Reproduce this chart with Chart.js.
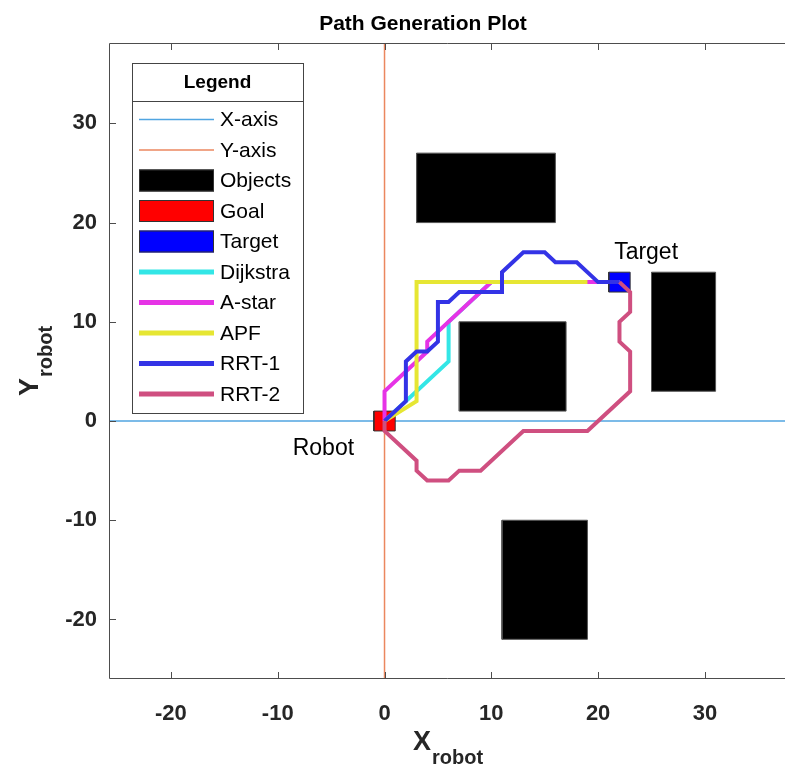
<!DOCTYPE html>
<html>
<head>
<title>Path Generation Plot</title>
<style>
  html, body { margin: 0; padding: 0; background: #fff; }
  #wrap { width: 785px; height: 767px; }
</style>
<script src="https://cdn.jsdelivr.net/npm/chart.js"></script>
</head>
<body>
<div id="wrap"><canvas id="plot" width="785" height="767"></canvas></div>
<script>
// axis limits and ticks
const xLimits = [-25.8, 37.5];
const yLimits = [-26, 38.1];
const xTicks = [-20, -10, 0, 10, 20, 30];
const yTicks = [-20, -10, 0, 10, 20, 30];

// obstacles, goal and target as [xmin, xmax, ymin, ymax]
const objects = [[3, 16, 20, 27], [7, 17, 1, 10], [25, 31, 3, 15], [11, 19, -22, -10]];
const goalBox = [-1, 1, -1, 1];
const targetBox = [21, 23, 13, 15];

// planner paths
const dijkstraX = [0, 6, 6, 10, 22];
const dijkstraY = [0, 6, 10, 14, 14];
const astarX = [0, 0, 4, 4, 10, 22];
const astarY = [0, 3, 7, 8, 14, 14];
const apfX = [0, 3, 3, 19];
const apfY = [0, 2, 14, 14];
const rrt1X = [0, 2, 2, 3, 4, 5, 5, 6, 7, 11, 11, 13, 15, 16, 18, 20, 22];
const rrt1Y = [0, 2, 6, 7, 7, 8, 12, 12, 13, 13, 15, 17, 17, 16, 16, 14, 14];
const rrt2X = [0, 0, 3, 3, 4, 6, 7, 9, 13, 19, 23, 23, 22, 22, 23, 23, 22];
const rrt2Y = [0, -1, -4, -5, -6, -6, -5, -5, -1, -1, 3, 7, 8, 10, 11, 13, 14];

const textLabels = [
  { text: 'Robot', x: -8.6, y: -2.8 },
  { text: 'Target', x: 21.5, y: 17 }
];

const FONT = '"Liberation Sans", Arial, Helvetica, sans-serif';

function zip(xs, ys) {
  return xs.map((x, i) => ({ x: x, y: ys[i] }));
}
function rect(b) {
  return [
    { x: b[0], y: b[2] }, { x: b[1], y: b[2] }, { x: b[1], y: b[3] },
    { x: b[0], y: b[3] }, { x: b[0], y: b[2] }
  ];
}

function lineSet(label, pts, color, width) {
  return { label: label, data: pts, borderColor: color, borderWidth: width,
    pointRadius: 0, fill: false, tension: 0, borderJoinStyle: 'miter', borderCapStyle: 'butt' };
}
function boxSet(label, b, color, edge) {
  return { label: label, data: rect(b), borderColor: edge, borderWidth: 1,
    backgroundColor: color, pointRadius: 0, fill: 'shape', tension: 0 };
}

const datasets = [
  lineSet('X-axis', zip([xLimits[0], xLimits[1]], [0, 0]), 'rgb(80,165,225)', 1.5),
  lineSet('Y-axis', zip([0, 0], [yLimits[0], yLimits[1]]), 'rgb(235,135,95)', 1.5)
];
objects.forEach(b => datasets.push(boxSet('Objects', b, '#000', '#555')));
datasets.push(boxSet('Goal', goalBox, '#ff0000', '#333'));
datasets.push(boxSet('Target', targetBox, '#0000ff', '#333'));
datasets.push(lineSet('Dijkstra', zip(dijkstraX, dijkstraY), 'rgb(51,230,230)', 4));
datasets.push(lineSet('A-star', zip(astarX, astarY), 'rgb(230,51,230)', 4));
datasets.push(lineSet('APF', zip(apfX, apfY), 'rgb(230,230,51)', 4));
datasets.push(lineSet('RRT-1', zip(rrt1X, rrt1Y), 'rgb(51,51,230)', 4));
datasets.push(lineSet('RRT-2', zip(rrt2X, rrt2Y), 'rgb(207,79,128)', 4));
// later series are painted on top
datasets.forEach((d, i) => { d.order = datasets.length - i; });

// legend rows: one per label, in plotting order
const legendRows = [];
datasets.forEach(d => {
  if (!legendRows.find(r => r.label === d.label)) legendRows.push(d);
});

const overlay = {
  id: 'overlay',
  afterDatasetsDraw(chart) {
    const ctx = chart.ctx;
    const xs = chart.scales.x, ys = chart.scales.y;
    ctx.save();
    ctx.fillStyle = '#000';
    ctx.font = '23px ' + FONT;
    ctx.textAlign = 'left';
    ctx.textBaseline = 'middle';
    textLabels.forEach(t => {
      ctx.fillText(t.text, xs.getPixelForValue(t.x), ys.getPixelForValue(t.y));
    });
    ctx.restore();
  },
  afterDraw(chart) {
    const ctx = chart.ctx;
    const a = chart.chartArea;
    const xs = chart.scales.x, ys = chart.scales.y;
    ctx.save();

    // axes box with inward ticks
    ctx.strokeStyle = '#4d4d4d';
    ctx.lineWidth = 1;
    ctx.beginPath();
    ctx.moveTo(a.right, a.top + 0.5);
    ctx.lineTo(a.left + 0.5, a.top + 0.5);
    ctx.lineTo(a.left + 0.5, a.bottom - 0.5);
    ctx.lineTo(a.right, a.bottom - 0.5);
    xTicks.forEach(v => {
      const px = Math.round(xs.getPixelForValue(v)) + 0.5;
      ctx.moveTo(px, a.bottom); ctx.lineTo(px, a.bottom - 7);
      ctx.moveTo(px, a.top); ctx.lineTo(px, a.top + 7);
    });
    yTicks.forEach(v => {
      const py = Math.round(ys.getPixelForValue(v)) + 0.5;
      ctx.moveTo(a.left, py); ctx.lineTo(a.left + 7, py);
    });
    ctx.stroke();

    // title
    ctx.fillStyle = '#000';
    ctx.font = 'bold 21px ' + FONT;
    ctx.textAlign = 'center';
    ctx.textBaseline = 'alphabetic';
    ctx.fillText('Path Generation Plot', 423, 30);

    // axis titles with subscripts
    ctx.fillStyle = '#262626';
    ctx.textAlign = 'left';
    ctx.font = 'bold 27px ' + FONT;
    ctx.fillText('X', 413, 750);
    const wX = ctx.measureText('X').width;
    ctx.font = 'bold 20px ' + FONT;
    ctx.fillText('robot', 413 + wX + 1, 764);

    ctx.save();
    ctx.translate(38, 396);
    ctx.rotate(-Math.PI / 2);
    ctx.font = 'bold 27px ' + FONT;
    ctx.fillText('Y', 0, 0);
    const wY = ctx.measureText('Y').width;
    ctx.font = 'bold 20px ' + FONT;
    ctx.fillText('robot', wY + 1, 14);
    ctx.restore();

    // legend box
    const L = { left: 132, right: 303, top: 63, sep: 101, bottom: 413 };
    ctx.fillStyle = '#fff';
    ctx.fillRect(L.left, L.top, L.right - L.left, L.bottom - L.top);
    ctx.strokeStyle = '#444';
    ctx.lineWidth = 1;
    ctx.strokeRect(L.left + 0.5, L.top + 0.5, L.right - L.left, L.bottom - L.top);
    ctx.beginPath();
    ctx.moveTo(L.left, L.sep + 0.5);
    ctx.lineTo(L.right, L.sep + 0.5);
    ctx.stroke();

    ctx.fillStyle = '#000';
    ctx.font = 'bold 19px ' + FONT;
    ctx.textAlign = 'center';
    ctx.textBaseline = 'middle';
    ctx.fillText('Legend', (L.left + L.right) / 2, 83);

    ctx.font = '21px ' + FONT;
    ctx.textAlign = 'left';
    legendRows.forEach((d, i) => {
      const cy = 119.5 + i * 30.5;
      if (d.fill === 'shape') {
        ctx.fillStyle = d.backgroundColor;
        ctx.fillRect(139, cy - 11, 75, 22);
        ctx.strokeStyle = '#333';
        ctx.lineWidth = 1;
        ctx.strokeRect(139.5, cy - 10.5, 74, 21);
      } else {
        ctx.strokeStyle = d.borderColor;
        ctx.lineWidth = d.borderWidth === 4 ? 5 : 1.5;
        ctx.beginPath();
        ctx.moveTo(139, cy);
        ctx.lineTo(214, cy);
        ctx.stroke();
      }
      ctx.fillStyle = '#000';
      ctx.fillText(d.label, 220, cy + 1);
    });

    ctx.restore();
  }
};

const tickFont = { family: FONT, size: 22, weight: 'bold' };

new Chart(document.getElementById('plot'), {
  type: 'line',
  data: { datasets: datasets },
  options: {
    responsive: false,
    animation: false,
    layout: { padding: { top: 43, right: 0, bottom: 0, left: 0 } },
    plugins: { legend: { display: false }, tooltip: { enabled: false }, title: { display: false } },
    scales: {
      x: {
        type: 'linear', min: xLimits[0], max: xLimits[1],
        afterBuildTicks: s => { s.ticks = xTicks.map(v => ({ value: v })); },
        afterFit: s => { s.height = 88; },
        grid: { display: false, drawTicks: false },
        border: { display: false },
        ticks: { font: tickFont, color: '#262626', padding: 22, maxRotation: 0, autoSkip: false }
      },
      y: {
        type: 'linear', min: yLimits[0], max: yLimits[1],
        afterBuildTicks: s => { s.ticks = yTicks.map(v => ({ value: v })); },
        afterFit: s => { s.width = 109; },
        grid: { display: false, drawTicks: false },
        border: { display: false },
        ticks: { font: tickFont, color: '#262626', padding: 12, autoSkip: false }
      }
    }
  },
  plugins: [overlay]
});
</script>
</body>
</html>
